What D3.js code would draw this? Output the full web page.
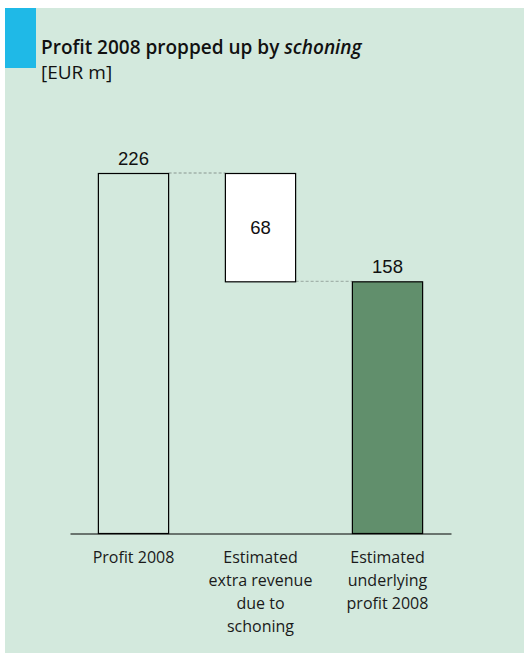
<!DOCTYPE html>
<html>
<head>
<meta charset="utf-8">
<script src="https://cdn.jsdelivr.net/npm/d3@7"></script>
<style>
  html, body { margin: 0; padding: 0; background: #ffffff; }
  svg { display: block; }
</style>
</head>
<body>
<script>
// Waterfall data (EUR m)
const categories = ["Profit 2008", "Estimated extra revenue due to schoning", "Estimated underlying profit 2008"];
const categoryLines = [
  ["Profit 2008"],
  ["Estimated", "extra revenue", "due to", "schoning"],
  ["Estimated", "underlying", "profit 2008"]
];
const barValues = [226, 68, 158];
const barKinds = ["total", "decrease", "total"];
const barFills = ["none", "#ffffff", "#618f6c"];

const W = 524, H = 653;
const svg = d3.select("body").append("svg").attr("width", W).attr("height", H);

// background panel and accent block
svg.append("rect").attr("x", 5).attr("y", 8).attr("width", W - 5).attr("height", H - 8).attr("fill", "#d3e9dd");
svg.append("rect").attr("x", 5).attr("y", 8).attr("width", 31).attr("height", 60).attr("fill", "#1fb9e7");

// title
const title = svg.append("text")
  .attr("x", 41).attr("y", 54)
  .attr("font-family", "'Open Sans', sans-serif")
  .attr("font-size", 19).attr("font-weight", 600).attr("fill", "#111");
title.append("tspan").text("Profit 2008 propped up by ");
title.append("tspan").attr("font-style", "italic").text("schoning");
svg.append("text")
  .attr("x", 41).attr("y", 79)
  .attr("font-family", "'Open Sans', sans-serif")
  .attr("font-size", 19).attr("fill", "#111")
  .text("[EUR m]");

// scales
const x = d3.scaleBand().domain(categories).range([70, 451]).paddingInner(0.447).paddingOuter(0.2235);
const y = d3.scaleLinear().domain([0, 226]).range([533.5, 173.5]);

// compute waterfall segments
let running = 0;
const segs = categories.map((c, i) => {
  let lo, hi;
  if (barKinds[i] === "total") { lo = 0; hi = barValues[i]; running = barValues[i]; }
  else { hi = running; lo = running - barValues[i]; running = lo; }
  return { cat: c, lo, hi, value: barValues[i], kind: barKinds[i], fill: barFills[i] };
});

// connector lines
const g = svg.append("g");
segs.slice(0, -1).forEach((s, i) => {
  const next = segs[i + 1];
  const level = s.kind === "total" ? s.hi : s.lo;
  g.append("line")
    .attr("x1", x(s.cat) + x.bandwidth()).attr("x2", x(next.cat))
    .attr("y1", y(level) - 0.5).attr("y2", y(level) - 0.5)
    .attr("stroke", "#a3b3ab").attr("stroke-width", 1.3)
    .attr("stroke-dasharray", "3,2");
});

// bars
g.selectAll("rect.bar").data(segs).join("rect")
  .attr("class", "bar")
  .attr("x", d => x(d.cat))
  .attr("y", d => y(d.hi))
  .attr("width", x.bandwidth())
  .attr("height", d => y(d.lo) - y(d.hi))
  .attr("fill", d => d.fill)
  .attr("stroke", "#000").attr("stroke-width", 1.2);

// value labels
g.selectAll("text.val").data(segs).join("text")
  .attr("class", "val")
  .attr("x", d => x(d.cat) + x.bandwidth() / 2)
  .attr("y", d => d.kind === "total" ? y(d.hi) - 8.5 : (y(d.hi) + y(d.lo)) / 2 + 6.5)
  .attr("text-anchor", "middle")
  .attr("font-family", "'Liberation Sans', Arial, sans-serif")
  .attr("font-size", 18.5).attr("fill", "#111")
  .text(d => d.value);

// category axis
const axis = svg.append("g")
  .attr("transform", `translate(0,${y(0)})`)
  .call(d3.axisBottom(x).tickSize(0).tickSizeOuter(0).tickFormat(() => ""));
axis.select(".domain").attr("stroke", "#000").attr("stroke-width", 1.2);

svg.append("g").selectAll("text.cat").data(categories).join("text")
  .attr("class", "cat")
  .attr("x", d => x(d) + x.bandwidth() / 2)
  .attr("y", 562.5)
  .attr("text-anchor", "middle")
  .attr("font-family", "'Open Sans', sans-serif")
  .attr("font-size", 16).attr("fill", "#1a1a1a")
  .each(function (d, i) {
    const t = d3.select(this);
    categoryLines[i].forEach((line, j) => {
      t.append("tspan").attr("x", x(d) + x.bandwidth() / 2).attr("dy", j === 0 ? 0 : 23.3).text(line);
    });
  });
</script>
</body>
</html>
